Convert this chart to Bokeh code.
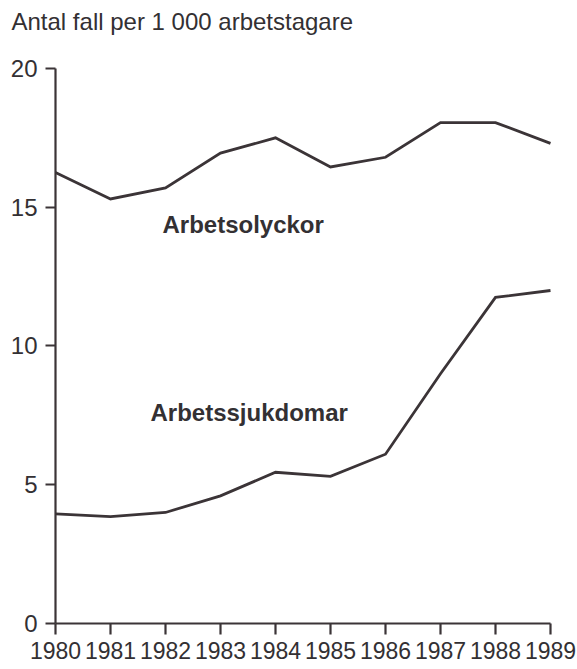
from bokeh.plotting import figure
from bokeh.models import Range1d, FixedTicker, Label
from bokeh.embed import file_html
from bokeh.resources import INLINE

# ---- data ----
years = [1980, 1981, 1982, 1983, 1984, 1985, 1986, 1987, 1988, 1989]
arbetsolyckor = [16.25, 15.3, 15.7, 16.95, 17.5, 16.45, 16.8, 18.05, 18.05, 17.3]
arbetssjukdomar = [3.95, 3.85, 4.0, 4.6, 5.45, 5.3, 6.1, 9.0, 11.75, 12.0]
y_ticks = [0, 5, 10, 15, 20]

title_text = "Antal fall per 1 000 arbetstagare"
label_olyckor = "Arbetsolyckor"
label_sjuk = "Arbetssjukdomar"

INK = "#3b3437"
TEXT = "#333033"
FONT = "Liberation Sans"

# the frame fills the whole canvas; axes are pinned at 1980 / 0 and bounded
p = figure(
    width=577, height=669,
    x_range=Range1d(1979.0, 1989.491), y_range=Range1d(-1.658, 22.45),
    output_backend="svg", toolbar_location=None,
    min_border_left=0, min_border_right=0, min_border_top=0, min_border_bottom=0,
    background_fill_color="white", border_fill_color="white",
)
p.outline_line_color = None
p.grid.visible = False

p.line(years, arbetsolyckor, line_color=INK, line_width=2.8, line_join="miter")
p.line(years, arbetssjukdomar, line_color=INK, line_width=2.8, line_join="miter")

for ax in (p.xaxis[0], p.yaxis[0]):
    ax.axis_line_color = INK
    ax.axis_line_width = 2.2
    ax.major_tick_line_color = INK
    ax.major_tick_line_width = 2.2
    ax.major_tick_in = 0
    ax.minor_tick_in = 0
    ax.minor_tick_out = 0
    ax.major_label_text_font = FONT
    ax.major_label_text_color = TEXT

p.xaxis.ticker = FixedTicker(ticks=years)
p.xaxis.bounds = (years[0], years[-1])
p.xaxis.fixed_location = y_ticks[0]
p.xaxis.major_tick_out = 11
p.xaxis.major_label_standoff = 8
p.xaxis.major_label_text_font_size = "23px"

p.yaxis.ticker = FixedTicker(ticks=y_ticks)
p.yaxis.bounds = (y_ticks[0], y_ticks[-1])
p.yaxis.fixed_location = years[0]
p.yaxis.major_tick_out = 10
p.yaxis.major_label_standoff = 8
p.yaxis.major_label_text_font_size = "24px"

p.add_layout(Label(x=1979.2, y=21.69, text=title_text, text_font=FONT,
                   text_font_size="24px", text_color=TEXT,
                   text_align="left", text_baseline="alphabetic"))
p.add_layout(Label(x=1981.945, y=14.37, text=label_olyckor, text_font=FONT,
                   text_font_size="24px", text_font_style="bold", text_color=TEXT,
                   text_align="left", text_baseline="alphabetic"))
p.add_layout(Label(x=1981.727, y=7.6, text=label_sjuk, text_font=FONT,
                   text_font_size="24px", text_font_style="bold", text_color=TEXT,
                   text_align="left", text_baseline="alphabetic"))

open("out.html", "w").write(file_html(p, INLINE))
